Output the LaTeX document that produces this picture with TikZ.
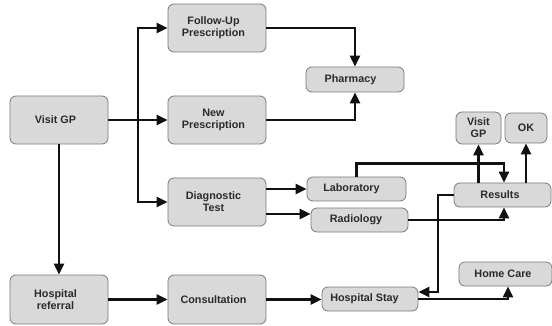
\documentclass[tikz,border=0pt]{standalone}
\usepackage{fontspec}
\setmainfont{Liberation Sans}
\usetikzlibrary{arrows.meta,calc}
\definecolor{boxfill}{HTML}{D9D9D9}
\definecolor{boxline}{HTML}{7A7A7A}
\definecolor{txt}{HTML}{2A2A2A}
\definecolor{wire}{HTML}{111111}
\tikzset{
  box/.style={draw=boxline, fill=boxfill, line width=0.8pt, rounded corners=6pt, inner sep=0pt},
  lbl/.style={xshift=-3.5pt, align=center, text=txt, font=\bfseries\fontsize{10.8}{12}\selectfont, inner sep=0pt},
  conn/.style={draw=wire, line width=2.2pt, -{Triangle[length=11pt,width=10pt]}},
  plain/.style={draw=wire, line width=2.2pt}
}
\begin{document}
\begin{tikzpicture}[x=1pt,y=-1pt]
\useasboundingbox (0,0) rectangle (552,326);
% boxes
\node[box, minimum width=98, minimum height=48, label={[lbl]center:{Visit GP}}] (vgp) at (59,120) {};
\node[box, minimum width=98, minimum height=48, label={[lbl]center:{Follow-Up\\Prescription}}] (fup) at (217,28) {};
\node[box, minimum width=98, minimum height=48, label={[lbl]center:{New\\Prescription}}] (newp) at (217,120) {};
\node[box, minimum width=98, minimum height=48, label={[lbl]center:{Diagnostic\\Test}}] (diag) at (217,202) {};
\node[box, minimum width=98, minimum height=49, label={[lbl]center:{Hospital\\referral}}] (href) at (59,299.5) {};
\node[box, minimum width=98, minimum height=49, label={[lbl]center:{Consultation}}] (cons) at (217,299.5) {};
\node[box, minimum width=98, minimum height=25, label={[lbl,xshift=-1pt]center:{Pharmacy}}] (pharm) at (355,79.5) {};
\node[box, minimum width=99, minimum height=24, label={[lbl,xshift=-1.5pt]center:{Laboratory}}] (lab) at (356.5,189) {};
\node[box, minimum width=97, minimum height=24, label={[lbl]center:{Radiology}}] (rad) at (359.5,220) {};
\node[box, minimum width=96, minimum height=24, label={[lbl,xshift=-2pt]center:{Hospital Stay}}] (hstay) at (370,299) {};
\node[box, minimum width=97, minimum height=24, label={[lbl,xshift=1pt]center:{Results}}] (results) at (502.5,195) {};
\node[box, minimum width=93, minimum height=24, label={[lbl,xshift=1pt]center:{Home Care}}] (homecare) at (505.5,274) {};
\node[box, minimum width=45, minimum height=32, label={[lbl,xshift=3.5pt]center:{Visit\\GP}}] (vgp2) at (478.5,128) {};
\node[box, minimum width=42, minimum height=30, label={[lbl,xshift=3.5pt]center:{OK}}] (ok) at (526,128) {};
% connectors
\coordinate (br) at (138,120);
\draw[conn] (vgp.east) -- (newp.west);
\draw[conn] (br) |- (fup.west);
\draw[conn] (br) |- (diag.west);
\draw[conn] (vgp.south) -- (href.north);
\draw[conn] (href.east) -- (cons.west);
\draw[conn] (cons.east) -- (cons.east -| hstay.west);
\draw[conn] (fup.east) -| (pharm.north);
\draw[conn] (newp.east) -| (pharm.south);
\coordinate (d1) at (diag.east |- lab.west);
\coordinate (d2) at ([yshift=-12pt]diag.east);
\draw[conn] (d1) -- (lab.west);
\draw[conn] (d2) -- (rad.west |- d2);
\draw[conn] (lab.north) -- ++(0,-13) -| ([xshift=1.5pt]results.north);
\draw[conn] (rad.east) -| ([xshift=1.5pt]results.south);
\draw[conn] (results.north -| vgp2.south) -- (vgp2.south);
\draw[conn] (results.north -| ok.south) -- (ok.south);
\draw[conn] (results.west) -- ++(-16,0) |- ([yshift=7pt]hstay.east);
\draw[conn] (hstay.east) -| ([xshift=2.5pt]homecare.south);
\end{tikzpicture}
\end{document}
